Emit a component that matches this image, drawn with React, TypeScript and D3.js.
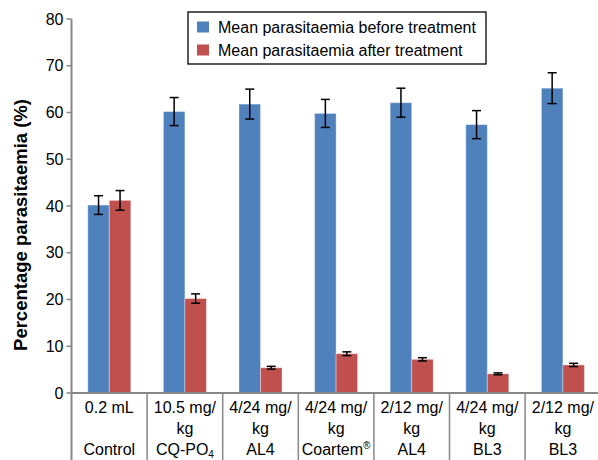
import React from "react";
import * as d3 from "d3";

const doses = ["0.2 mL", "10.5 mg/|kg", "4/24 mg/|kg", "4/24 mg/|kg", "2/12 mg/|kg", "4/24 mg/|kg", "2/12 mg/|kg"];
const groups = ["Control", "CQ-PO4", "AL4", "Coartem", "AL4", "BL3", "BL3"];
const beforeMean = [40.2, 60.2, 61.8, 59.8, 62.1, 57.4, 65.2];
const beforeErr = [2.0, 3.0, 3.2, 3.0, 3.1, 3.0, 3.3];
const afterMean = [41.2, 20.2, 5.4, 8.4, 7.2, 4.1, 6.0];
const afterErr = [2.1, 1.0, 0.3, 0.4, 0.35, 0.2, 0.35];
const seriesNames = ["Mean parasitaemia before treatment", "Mean parasitaemia after treatment"];
const seriesColors = ["#4F81BD", "#C0504D"];
const yTicks = [0, 10, 20, 30, 40, 50, 60, 70, 80];

export default function App() {
  const W = 598, H = 460;
  const x0 = 71.5, x1 = 600.7;
  const yTop = 19, yBot = 393;
  const idx = d3.range(doses.length).map(String);
  const x = d3.scaleBand<string>().domain(idx).range([x0, x1]).paddingInner(0).paddingOuter(0);
  const xs = d3.scaleBand<string>().domain(["0", "1"]).range([0, x.bandwidth()]).paddingInner(0).paddingOuter(0.758);
  const y = d3.scaleLinear().domain([0, 80]).range([yBot, yTop]);
  const axisColor = "#878787";
  const font = "Liberation Sans, Arial, sans-serif";
  const series = [
    { mean: beforeMean, err: beforeErr },
    { mean: afterMean, err: afterErr },
  ];

  return (
    <svg width={W} height={H} style={{ position: "absolute", left: 0, top: 0, display: "block" }} fontFamily={font}>
      <rect x={0} y={0} width={W} height={H} fill="#fff" />
      {series.map((s, si) =>
        s.mean.map((v, i) => {
          const bx = (x(String(i)) as number) + (xs(String(si)) as number);
          const bw = xs.bandwidth();
          return (
            <rect key={`b${si}-${i}`} x={bx} y={y(v)} width={bw} height={yBot - y(v)} fill={seriesColors[si]} stroke="rgba(255,255,255,0.35)" strokeWidth={1} />
          );
        })
      )}
      {series.map((s, si) =>
        s.mean.map((v, i) => {
          const cx = (x(String(i)) as number) + (xs(String(si)) as number) + xs.bandwidth() / 2;
          const e = s.err[i];
          const t = y(v + e), b = y(v - e);
          return (
            <g key={`e${si}-${i}`} stroke="#000" strokeWidth={1.5}>
              <line x1={cx} x2={cx} y1={t} y2={b} />
              <line x1={cx - 4.5} x2={cx + 4.5} y1={t} y2={t} />
              <line x1={cx - 4.5} x2={cx + 4.5} y1={b} y2={b} />
            </g>
          );
        })
      )}
      <line x1={x0} x2={x0} y1={yTop} y2={H} stroke={axisColor} strokeWidth={2} />
      {yTicks.map((t) => (
        <g key={`yt${t}`}>
          <line x1={x0 - 5} x2={x0} y1={y(t)} y2={y(t)} stroke={axisColor} strokeWidth={1.5} />
          <text x={x0 - 8} y={y(t) + 5.5} textAnchor="end" fontSize={16} fill="#000">{t}</text>
        </g>
      ))}
      <line x1={x0} x2={W} y1={yBot} y2={yBot} stroke={axisColor} strokeWidth={2} />
      {idx.map((k, i) => (
        <line key={`xs${i}`} x1={(x(k) as number) + x.bandwidth()} x2={(x(k) as number) + x.bandwidth()} y1={yBot} y2={H} stroke={axisColor} strokeWidth={1.5} />
      ))}
      {idx.map((k, i) => {
        const cx = (x(k) as number) + x.bandwidth() / 2;
        const lines = doses[i].split("|");
        const g = groups[i];
        return (
          <g key={`cl${i}`} fontSize={16} fill="#000" textAnchor="middle">
            {lines.map((ln, li) => (
              <text key={li} x={cx} y={413 + li * 20.5}>{ln}</text>
            ))}
            {g === "CQ-PO4" ? (
              <text x={cx} y={455}>CQ-PO<tspan fontSize={10} dy={3}>4</tspan></text>
            ) : g === "Coartem" ? (
              <text x={cx} y={455}>Coartem<tspan fontSize={10} dy={-6}>®</tspan></text>
            ) : (
              <text x={cx} y={455}>{g}</text>
            )}
          </g>
        );
      })}
      <text transform={`translate(27,${225}) rotate(-90)`} textAnchor="middle" fontSize={18.5} fontWeight="bold" fill="#000">
        Percentage parasitaemia (%)
      </text>
      <rect x={188} y={12} width={298} height={52} fill="#fff" stroke="#000" strokeWidth={1.3} />
      {seriesNames.map((n, i) => (
        <g key={`lg${i}`}>
          <rect x={197} y={21.5 + i * 23} width={12} height={11} fill={seriesColors[i]} />
          <text x={218} y={32.5 + i * 23} fontSize={16} fill="#000">{n}</text>
        </g>
      ))}
    </svg>
  );
}
